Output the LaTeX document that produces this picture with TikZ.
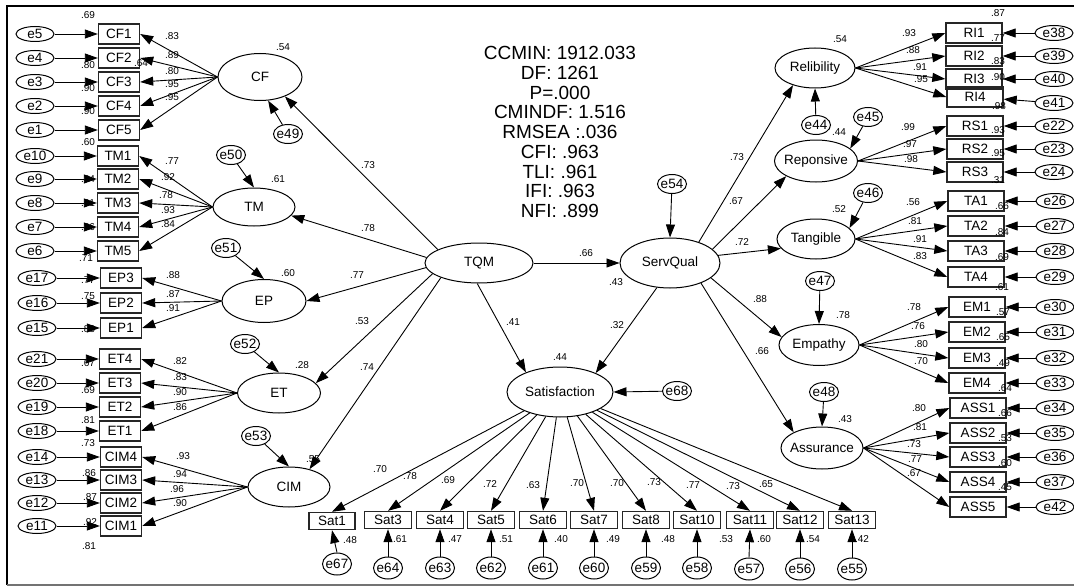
\documentclass[tikz,border=0pt]{standalone}
\usepackage{fontspec}
\setmainfont{Liberation Sans}
\usetikzlibrary{shapes.geometric,arrows.meta}
\begin{document}
\begin{tikzpicture}[x=1pt,y=-1pt,
 font=\fontsize{13.5}{15}\selectfont,
 obs/.style={draw=black!85, line width=1.4pt, minimum width=41pt, minimum height=20pt, inner sep=0pt},
 robs/.style={obs, minimum width=56pt},
 sobs/.style={obs, minimum width=47pt, minimum height=17pt},
 latv/.style={ellipse, draw, line width=1pt, inner sep=0pt, label={center:#1}},
 eind/.style={ellipse, draw, line width=1pt, minimum width=38pt, minimum height=15pt, inner sep=0pt, label={center:#1}},
 elat/.style={ellipse, draw, line width=1pt, minimum width=29pt, minimum height=19pt, inner sep=0pt, label={center:#1}},
 esat/.style={ellipse, draw, line width=1pt, minimum width=29pt, minimum height=22pt, inner sep=0pt, label={center:#1}},
 num/.style={font=\fontsize{10}{10}\selectfont, inner sep=0pt},
 arr/.style={draw, line width=0.9pt, -{Triangle[length=13pt,width=9pt]}},
 fitbox/.style={font=\fontsize{19}{19.75}\selectfont, align=center, inner sep=0pt}
]
\useasboundingbox (0,0) rectangle (1074,586);
% frame
\draw[line width=2pt] (7,585) -- (7,6) -- (1074,6);
\draw[line width=2pt, black!55] (7,585) -- (1074,585);

% fit statistics
\node[fitbox] (fit) at (560,132) {CCMIN: 1912.033\\DF: 1261\\P=.000\\CMINDF: 1.516\\RMSEA :.036\\CFI: .963\\TLI: .961\\IFI: .963\\NFI: .899};

% ---------- latent variables ----------
\node[latv=CF, minimum width=84pt, minimum height=47pt] (cf) at (260,77) {};
\node[latv=TM, minimum width=82pt, minimum height=38pt] (tm) at (254,207) {};
\node[latv=EP, minimum width=84pt, minimum height=43pt] (ep) at (264,301) {};
\node[latv=ET, minimum width=83pt, minimum height=40pt] (et) at (279,393) {};
\node[latv=CIM, minimum width=82pt, minimum height=40pt] (cim) at (289,487) {};
\node[latv=TQM, minimum width=108pt, minimum height=40pt] (tqm) at (479,263) {};
\node[latv=ServQual, minimum width=100pt, minimum height=50pt] (sq) at (670,263) {};
\node[latv=Satisfaction, minimum width=106pt, minimum height=50pt] (sat) at (560,392) {};
\node[latv=Relibility, minimum width=80pt, minimum height=40pt] (rel) at (815,68) {};
\node[latv=Reponsive, minimum width=83pt, minimum height=42pt] (rep) at (816,161) {};
\node[latv=Tangible, minimum width=78pt, minimum height=40pt] (tan) at (816,239) {};
\node[latv=Empathy, minimum width=80pt, minimum height=41pt] (emp) at (819,345) {};
\node[latv=Assurance, minimum width=82pt, minimum height=42pt] (ass) at (822,448) {};

% latent errors
\node[elat=e49] (e49) at (288,134) {};
\node[elat=e50] (e50) at (231,155) {};
\node[elat=e51] (e51) at (226,248) {};
\node[elat=e52] (e52) at (245,344) {};
\node[elat=e53] (e53) at (256,436) {};
\node[elat=e54] (e54) at (672,184) {};
\node[elat=e68] (e68) at (677,391) {};
\node[elat=e44] (e44) at (816,125) {};
\node[elat=e45] (e45) at (868,117) {};
\node[elat=e46] (e46) at (868,193) {};
\node[elat=e47] (e47) at (820,281) {};
\node[elat=e48] (e48) at (824,392) {};

% ---------- left indicators ----------
\node[obs] (cf1) at (119,34) {CF1};   \node[eind=e5] (e5) at (35,34) {};
\node[obs] (cf2) at (119,58) {CF2};   \node[eind=e4] (e4) at (35,58) {};
\node[obs] (cf3) at (119,82) {CF3};   \node[eind=e3] (e3) at (35,82) {};
\node[obs] (cf4) at (119,106) {CF4};  \node[eind=e2] (e2) at (35,106) {};
\node[obs] (cf5) at (119,130) {CF5};  \node[eind=e1] (e1) at (35,130) {};

\node[obs] (tm1) at (118,156) {TM1};  \node[eind=e10] (e10) at (35,156) {};
\node[obs] (tm2) at (118,179) {TM2};  \node[eind=e9] (e9) at (35,179) {};
\node[obs] (tm3) at (118,203) {TM3};  \node[eind=e8] (e8) at (35,203) {};
\node[obs] (tm4) at (118,227) {TM4};  \node[eind=e7] (e7) at (35,227) {};
\node[obs] (tm5) at (118,251) {TM5};  \node[eind=e6] (e6) at (35,251) {};

\node[obs] (ep3) at (121,278) {EP3};  \node[eind=e17] (e17) at (37,278) {};
\node[obs] (ep2) at (121,303) {EP2};  \node[eind=e16] (e16) at (37,303) {};
\node[obs] (ep1) at (121,328) {EP1};  \node[eind=e15] (e15) at (37,328) {};

\node[obs] (et4) at (120,359) {ET4};  \node[eind=e21] (e21) at (37,359) {};
\node[obs] (et3) at (120,383) {ET3};  \node[eind=e20] (e20) at (37,383) {};
\node[obs] (et2) at (120,407) {ET2};  \node[eind=e19] (e19) at (37,407) {};
\node[obs] (et1) at (120,431) {ET1};  \node[eind=e18] (e18) at (37,431) {};

\node[obs] (cim4) at (121,457) {CIM4}; \node[eind=e14] (e14) at (37,457) {};
\node[obs] (cim3) at (121,480) {CIM3}; \node[eind=e13] (e13) at (37,480) {};
\node[obs] (cim2) at (121,503) {CIM2}; \node[eind=e12] (e12) at (37,503) {};
\node[obs] (cim1) at (121,526) {CIM1}; \node[eind=e11] (e11) at (37,526) {};

% ---------- right indicators ----------
\node[robs] (ri1) at (974,33) {RI1};   \node[eind=e38] (e38) at (1054,33) {};
\node[robs] (ri2) at (974,56) {RI2};   \node[eind=e39] (e39) at (1054,56) {};
\node[robs] (ri3) at (974,79) {RI3};   \node[eind=e40] (e40) at (1054,79) {};
\node[robs] (ri4) at (975,97) {RI4};   \node[eind=e41] (e41) at (1054,103) {};
\node[robs] (rs1) at (975,126) {RS1};  \node[eind=e22] (e22) at (1054,126) {};
\node[robs] (rs2) at (975,149) {RS2};  \node[eind=e23] (e23) at (1054,149) {};
\node[robs] (rs3) at (975,172) {RS3};  \node[eind=e24] (e24) at (1054,172) {};
\node[robs] (ta1) at (976,201) {TA1};  \node[eind=e26] (e26) at (1055,201) {};
\node[robs] (ta2) at (976,226) {TA2};  \node[eind=e27] (e27) at (1055,226) {};
\node[robs] (ta3) at (976,251) {TA3};  \node[eind=e28] (e28) at (1055,251) {};
\node[robs] (ta4) at (976,277) {TA4};  \node[eind=e29] (e29) at (1055,277) {};
\node[robs] (em1) at (977,307) {EM1};  \node[eind=e30] (e30) at (1055,307) {};
\node[robs] (em2) at (977,332) {EM2};  \node[eind=e31] (e31) at (1055,332) {};
\node[robs] (em3) at (977,358) {EM3};  \node[eind=e32] (e32) at (1055,358) {};
\node[robs] (em4) at (977,383) {EM4};  \node[eind=e33] (e33) at (1055,383) {};
\node[robs] (as1) at (978,408) {ASS1}; \node[eind=e34] (e34) at (1055,408) {};
\node[robs] (as2) at (978,433) {ASS2}; \node[eind=e35] (e35) at (1055,433) {};
\node[robs] (as3) at (978,457) {ASS3}; \node[eind=e36] (e36) at (1055,457) {};
\node[robs] (as4) at (978,482) {ASS4}; \node[eind=e37] (e37) at (1055,482) {};
\node[robs] (as5) at (978,507) {ASS5}; \node[eind=e42] (e42) at (1055,507) {};

% ---------- satisfaction indicators ----------
\node[sobs, minimum width=46pt] (s1) at (332,521) {Sat1};  \node[esat=e67] (e67) at (337,564) {};
\node[sobs] (s3) at (388,520) {Sat3};   \node[esat=e64] (e64) at (388,568) {};
\node[sobs] (s4) at (440,520) {Sat4};   \node[esat=e63] (e63) at (440,568) {};
\node[sobs] (s5) at (491,520) {Sat5};   \node[esat=e62] (e62) at (491,568) {};
\node[sobs] (s6) at (543,520) {Sat6};   \node[esat=e61] (e61) at (543,568) {};
\node[sobs] (s7) at (594,520) {Sat7};   \node[esat=e60] (e60) at (594,568) {};
\node[sobs] (s8) at (646,520) {Sat8};   \node[esat=e59] (e59) at (646,568) {};
\node[sobs] (s10) at (697,520) {Sat10}; \node[esat=e58] (e58) at (697,568) {};
\node[sobs] (s11) at (750,520) {Sat11}; \node[esat=e57] (e57) at (749,569) {};
\node[sobs] (s12) at (800,520) {Sat12}; \node[esat=e56] (e56) at (800,569) {};
\node[sobs] (s13) at (852,520) {Sat13}; \node[esat=e55] (e55) at (852,569) {};

% ---------- connectors ----------
% left error -> indicator
\foreach \e/\b in {e5/cf1,e4/cf2,e3/cf3,e2/cf4,e1/cf5,e10/tm1,e9/tm2,e8/tm3,e7/tm4,e6/tm5,
  e17/ep3,e16/ep2,e15/ep1,e21/et4,e20/et3,e19/et2,e18/et1,e14/cim4,e13/cim3,e12/cim2,e11/cim1}
  \draw[arr] (\e) -- (\b);
% left latent -> indicators
\foreach \l/\b in {cf/cf1,cf/cf2,cf/cf3,cf/cf4,cf/cf5,tm/tm1,tm/tm2,tm/tm3,tm/tm4,tm/tm5,
  ep/ep3,ep/ep2,ep/ep1,et/et4,et/et3,et/et2,et/et1,cim/cim4,cim/cim3,cim/cim2,cim/cim1}
  \draw[arr] (\l.west) -- (\b.east);
% right latent -> indicators
\foreach \l/\b in {rel/ri1,rel/ri2,rel/ri3,rel/ri4,rep/rs1,rep/rs2,rep/rs3,tan/ta1,tan/ta2,tan/ta3,tan/ta4,
  emp/em1,emp/em2,emp/em3,emp/em4,ass/as1,ass/as2,ass/as3,ass/as4,ass/as5}
  \draw[arr] (\l.east) -- (\b.west);
% right error -> indicator
\foreach \e/\b in {e38/ri1,e39/ri2,e40/ri3,e41/ri4,e22/rs1,e23/rs2,e24/rs3,e26/ta1,e27/ta2,e28/ta3,e29/ta4,
  e30/em1,e31/em2,e32/em3,e33/em4,e34/as1,e35/as2,e36/as3,e37/as4,e42/as5}
  \draw[arr] (\e) -- (\b);
% satisfaction -> items, errors -> items
\foreach \b in {s1,s3,s4,s5,s6,s7,s8,s10,s11,s12,s13}
  \draw[arr] (sat) -- (\b.north);
\foreach \e/\b in {e67/s1,e64/s3,e63/s4,e62/s5,e61/s6,e60/s7,e59/s8,e58/s10,e57/s11,e56/s12,e55/s13}
  \draw[arr] (\e.north) -- (\b.south);
% structural paths
\draw[arr] (tqm.162) -- (cf.322);
\draw[arr] (tqm.174) -- (tm.347);
\draw[arr] (tqm.185) -- (ep.0);
\draw[arr] (tqm.193) -- (et.15);
\draw[arr] (tqm.201) -- (cim.41);
\draw[arr] (tqm.265) -- (sat.150);
\draw[arr] (tqm.east) -- (sq.west);
\draw[arr] (sq.242) -- (sat.28);
\draw[arr] (sq.36) -- (rel.218);
\draw[arr] (sq.18) -- (rep.207);
\draw[arr] (sq.9) -- (tan.195);
\draw[arr] (sq.340) -- (emp.168);
\draw[arr] (sq.327) -- (ass.151);
% latent residuals
\draw[arr] (e49) -- (cf.289);
\draw[arr] (e50) -- (tm.north);
\draw[arr] (e51) -- (ep.north);
\draw[arr] (e52) -- (et.north);
\draw[arr] (e53) -- (cim.north);
\draw[arr] (e54) -- (sq.north);
\draw[arr] (e68) -- (sat.east);
\draw[arr] (e44) -- (rel.south);
\draw[arr] (e45) -- (rep.20);
\draw[arr] (e46) -- (tan.18);
\draw[arr] (e47) -- (emp.north);
\draw[arr] (e48) -- (ass.north);

% ---------- estimates ----------
\foreach \x/\y/\t [count=\i] in {
 88/15/.69, 172/36/.83, 172/55/.89, 88/65/.80, 141/63/.64, 172/71/.80, 88/88/.90, 172/84/.95, 88/111/.90, 172/97/.95, 283/47/.54,
 88/142/.60, 172/161/.77, 168/177/.92, 166/195/.78, 168/210/.93, 168/224/.84, 88/179/.84, 88/203/.61, 88/227/.86, 86/258/.71, 278/179/.61,
 173/275/.88, 173/294/.87, 173/308/.91, 88/280/.77, 88/296/.75, 88/329/.83, 288/273/.60,
 180/361/.82, 180/377/.83, 180/392/.90, 180/407/.86, 88/363/.67, 88/390/.69, 88/420/.81, 88/443/.73, 302/365/.28,
 183/456/.93, 180/474/.94, 177/489/.96, 180/503/.90, 89/473/.86, 90/497/.87, 90/522/.92, 89/546/.81, 313/459/.55,
 368/165/.73, 368/228/.78, 357/275/.77, 362/321/.53, 367/367/.74, 513/322/.41, 586/253/.66, 616/282/.43, 617/325/.32, 560/357/.44,
 737/157/.73, 736/201/.67, 742/242/.72, 760/299/.88, 762/351/.66,
 840/39/.54, 839/132/.44, 839/209/.52, 843/315/.78, 845/419/.43,
 909/33/.93, 913/50/.88, 920/67/.91, 921/79/.95, 908/127/.99, 910/144/.97, 911/159/.98,
 913/202/.56, 915/221/.81, 920/239/.91, 920/256/.83, 914/307/.78, 918/326/.76, 921/344/.80, 921/361/.70,
 919/408/.80, 920/427/.81, 914/444/.73, 915/459/.77, 914/473/.67,
 998/13/.87, 998/38/.77, 998/61/.83, 998/77/.90, 999/106/.98, 998/130/.93, 998/153/.95, 998/180/.31,
 1002/206/.66, 1002/232/.84, 1002/257/.69, 1002/287/.61, 1003/312/.57, 1003/337/.65, 1003/363/.49,
 1005/388/.64, 1005/413/.66, 1005/438/.53, 1005/463/.60, 1005/487/.45,
 380/469/.70, 410/476/.78, 448/480/.69, 490/484/.72, 533/485/.63, 577/483/.70, 617/483/.70, 654/482/.73, 693/485/.77, 733/486/.73, 766/484/.65,
 350/540/.48, 400/539/.61, 455/539/.47, 506/539/.51, 561/539/.40, 613/539/.49, 668/539/.48, 726/539/.53, 764/539/.60, 813/539/.54, 862/539/.42}
 \node[num] (n\i) at (\x,\y) {\t};
\end{tikzpicture}
\end{document}
